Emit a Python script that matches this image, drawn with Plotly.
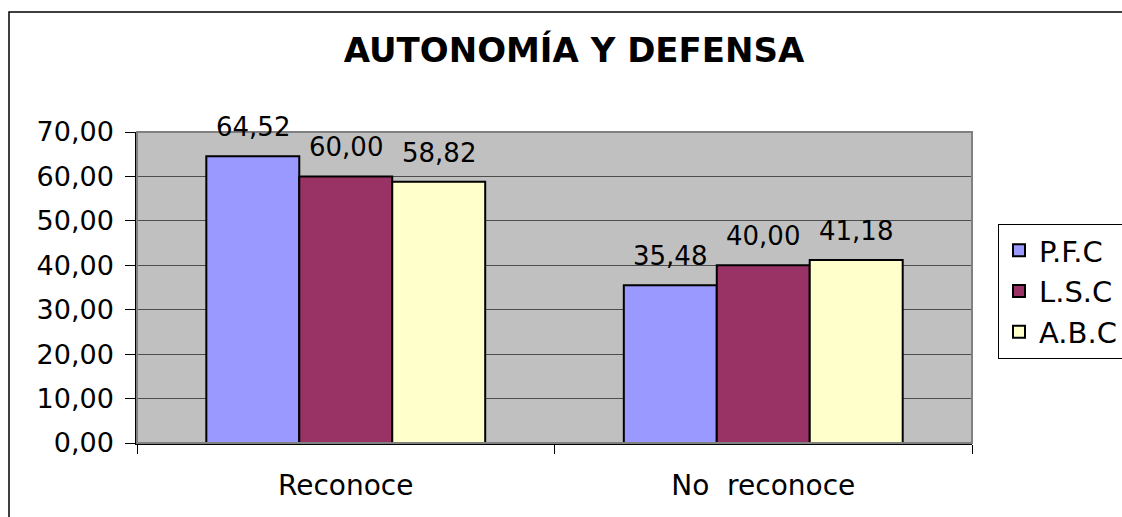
import plotly.graph_objects as go

categories = ["Reconoce", "No  reconoce"]
series_names = ["P.F.C", "L.S.C", "A.B.C"]
pfc = [64.52, 35.48]
lsc = [60.00, 40.00]
abc = [58.82, 41.18]
series_values = [pfc, lsc, abc]
colors = ["#9999FF", "#993366", "#FFFFCC"]
y_ticks = [0, 10, 20, 30, 40, 50, 60, 70]

FONT = "DejaVu Sans"
W, H = 1122, 517
L, R, T, B = 137, 150, 132, 74
plot_w = W - L - R
plot_h = H - T - B
BARGAP = 0.332
bar_px = plot_w / len(categories) * (1 - BARGAP) / len(series_names)

fig = go.Figure()
for name, vals, col in zip(series_names, series_values, colors):
    fig.add_trace(go.Bar(
        name=name, x=categories, y=vals,
        marker=dict(color=col, line=dict(color="black", width=2)),
    ))

annotations = []
for i, vals in enumerate(series_values):
    for cat, v in zip(categories, vals):
        annotations.append(dict(
            x=cat, y=v, xref="x", yref="y",
            text=f"{v:.2f}".replace(".", ","),
            showarrow=False, xanchor="center", yanchor="bottom",
            xshift=(i - 1) * bar_px, yshift=12,
            font=dict(family=FONT, size=26, color="black"),
        ))

shapes = [
    dict(type="rect", xref="paper", yref="paper",
         x0=(9 - L) / plot_w, x1=(W + 10 - L) / plot_w,
         y0=-(B + 10) / plot_h, y1=(H - B - 12) / plot_h,
         line=dict(color="black", width=1.5), fillcolor="rgba(0,0,0,0)"),
    dict(type="rect", xref="paper", yref="paper", x0=0, x1=1, y0=0, y1=1,
         line=dict(color="#808080", width=2), fillcolor="rgba(0,0,0,0)", layer="above"),
]

fig.update_layout(
    width=W, height=H,
    margin=dict(l=L, r=R, t=T, b=B, autoexpand=False),
    paper_bgcolor="white", plot_bgcolor="#C0C0C0",
    separators=",.",
    barmode="group", bargap=BARGAP, bargroupgap=0,
    title=dict(text="<b>AUTONOMÍA Y DEFENSA</b>", x=574 / W, xref="container", xanchor="center",
               y=1 - 50 / H, yref="container", yanchor="middle",
               font=dict(family=FONT, size=34, color="black")),
    font=dict(family=FONT, color="black"),
    legend=dict(x=(998 - L) / plot_w, y=(H - B - 224) / plot_h, xanchor="left", yanchor="top",
                bordercolor="black", borderwidth=1, bgcolor="white",
                font=dict(family=FONT, size=29, color="black"),
                itemwidth=30, tracegroupgap=0),
    annotations=annotations,
    shapes=shapes,
    showlegend=True,
)
fig.update_xaxes(
    type="category", showgrid=False, showline=True, linecolor="black", linewidth=1.5,
    ticks="outside", tickson="boundaries", ticklen=9, tickcolor="black", tickwidth=1,
    tickfont=dict(family=FONT, size=28, color="black"), ticklabelstandoff=17,
)
fig.update_yaxes(
    range=[0, 70], tickvals=y_ticks, tickformat=".2f",
    showgrid=True, gridcolor="#4d4d4d", gridwidth=1,
    showline=True, linecolor="black", linewidth=1.5, zeroline=False,
    ticks="outside", ticklen=10, tickcolor="black", tickwidth=1,
    tickfont=dict(family=FONT, size=27, color="black"), ticklabelstandoff=6,
)

fig.write_html("out.html", config={"displayModeBar": False},
               post_script="document.body.style.margin='0';")
